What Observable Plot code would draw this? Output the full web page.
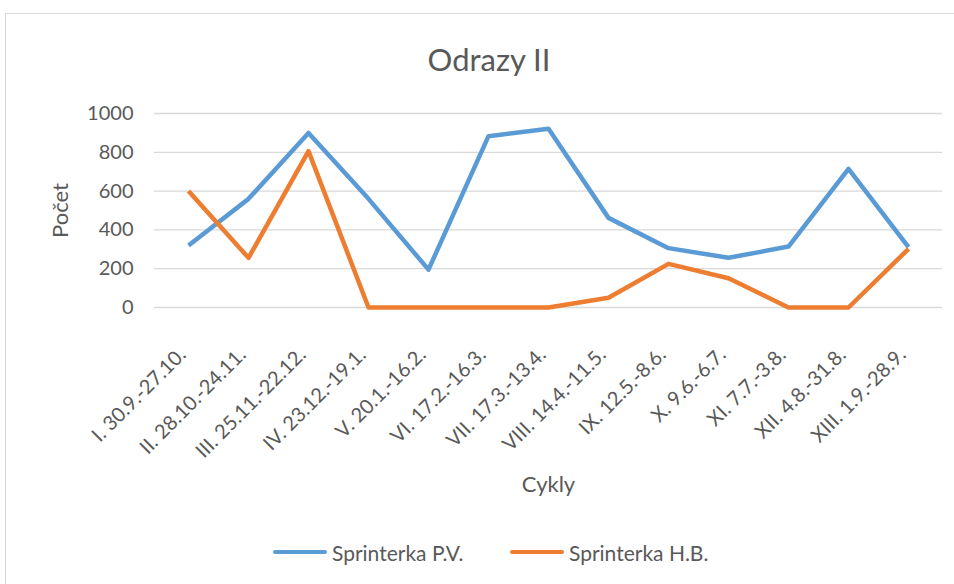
<!DOCTYPE html>
<html>
<head>
<meta charset="utf-8">
<script src="https://cdn.jsdelivr.net/npm/d3@7"></script>
<script src="https://cdn.jsdelivr.net/npm/@observablehq/plot@0.6"></script>
<style>
  html, body { margin: 0; padding: 0; background: #fff; width: 954px; height: 584px; overflow: hidden; }
  body { position: relative; font-family: Lato, "Open Sans", sans-serif; color: #595959; }
  #frame { position: absolute; left: 5px; top: 13px; width: 980px; height: 620px; border: 1px solid #d9d9d9; box-sizing: border-box; }
  #title { position: absolute; left: 0; width: 978px; top: 39px; text-align: center; font-size: 31px; line-height: 40px; color: #595959; }
  #chart { position: absolute; left: 0; top: 90px; }
  #legend { position: absolute; left: 0; top: 538px; width: 954px; height: 28px; }
  .item { position: absolute; top: 0; height: 28px; display: flex; align-items: center; font-size: 21px; color: #595959; white-space: nowrap; }
  .sw { width: 54px; height: 4px; border-radius: 2px; margin-right: 5px; }
</style>
</head>
<body>
<div id="frame"></div>
<div id="title">Odrazy II</div>
<div id="chart"></div>
<div id="legend"></div>
<script>
const categories = [
  "I. 30.9.-27.10.", "II. 28.10.-24.11.", "III. 25.11.-22.12.", "IV. 23.12.-19.1.",
  "V. 20.1.-16.2.", "VI. 17.2.-16.3.", "VII. 17.3.-13.4.", "VIII. 14.4.-11.5.",
  "IX. 12.5.-8.6.", "X. 9.6.-6.7.", "XI. 7.7.-3.8.", "XII. 4.8.-31.8.", "XIII. 1.9.-28.9."
];
const seriesNames = ["Sprinterka P.V.", "Sprinterka H.B."];
const seriesColors = ["#5B9BD5", "#ED7D31"];
const valuesPV = [320, 560, 900, 560, 195, 883, 921, 462, 306, 256, 314, 715, 311];
const valuesHB = [600, 256, 806, 0, 0, 0, 0, 50, 225, 151, 0, 0, 302];
const yTicks = [0, 200, 400, 600, 800, 1000];
const xTitle = "Cykly";
const yTitle = "Počet";

const data = [];
categories.forEach((c, i) => {
  data.push({cycle: c, value: valuesPV[i], series: seriesNames[0]});
});
categories.forEach((c, i) => {
  data.push({cycle: c, value: valuesHB[i], series: seriesNames[1]});
});

const chart = Plot.plot({
  width: 954,
  height: 420,
  marginLeft: 154,
  marginRight: 12,
  marginTop: 23,
  marginBottom: 203,
  style: {fontFamily: "Lato, 'Open Sans', sans-serif", color: "#595959", background: "transparent", overflow: "visible"},
  x: {type: "point", domain: categories, padding: 0.5},
  y: {domain: [0, 1000]},
  color: {domain: seriesNames, range: seriesColors},
  marks: [
    Plot.gridY(yTicks, {stroke: "#d9d9d9", strokeOpacity: 1, strokeWidth: 1.3}),
    Plot.axisY(yTicks, {tickSize: 0, tickPadding: 21, tickFormat: d3.format("d"), fontSize: 20, fill: "#595959", label: null}),
    Plot.axisX({tickSize: 0, tickRotate: -45, tickPadding: 44, dx: -6, fontSize: 20, fill: "#595959", label: null}),
    Plot.line(data, {x: "cycle", y: "value", z: "series", stroke: "series", strokeWidth: 4.5, strokeLinejoin: "round", strokeLinecap: "butt"}),
    Plot.text([yTitle], {text: d => d, frameAnchor: "left", dx: -102, rotate: -90, lineAnchor: "top", textAnchor: "middle", fontSize: 22, fill: "#595959"}),
    Plot.text([xTitle], {text: d => d, frameAnchor: "bottom", dy: 184, lineAnchor: "bottom", textAnchor: "middle", fontSize: 22, fill: "#595959"})
  ]
});
document.getElementById("chart").appendChild(chart);

const legend = document.getElementById("legend");
const lefts = [273, 510];
seriesNames.forEach((name, i) => {
  const item = document.createElement("div");
  item.className = "item";
  item.style.left = lefts[i] + "px";
  const sw = document.createElement("div");
  sw.className = "sw";
  sw.style.background = seriesColors[i];
  const label = document.createElement("span");
  label.textContent = name;
  item.appendChild(sw);
  item.appendChild(label);
  legend.appendChild(item);
});
</script>
</body>
</html>
